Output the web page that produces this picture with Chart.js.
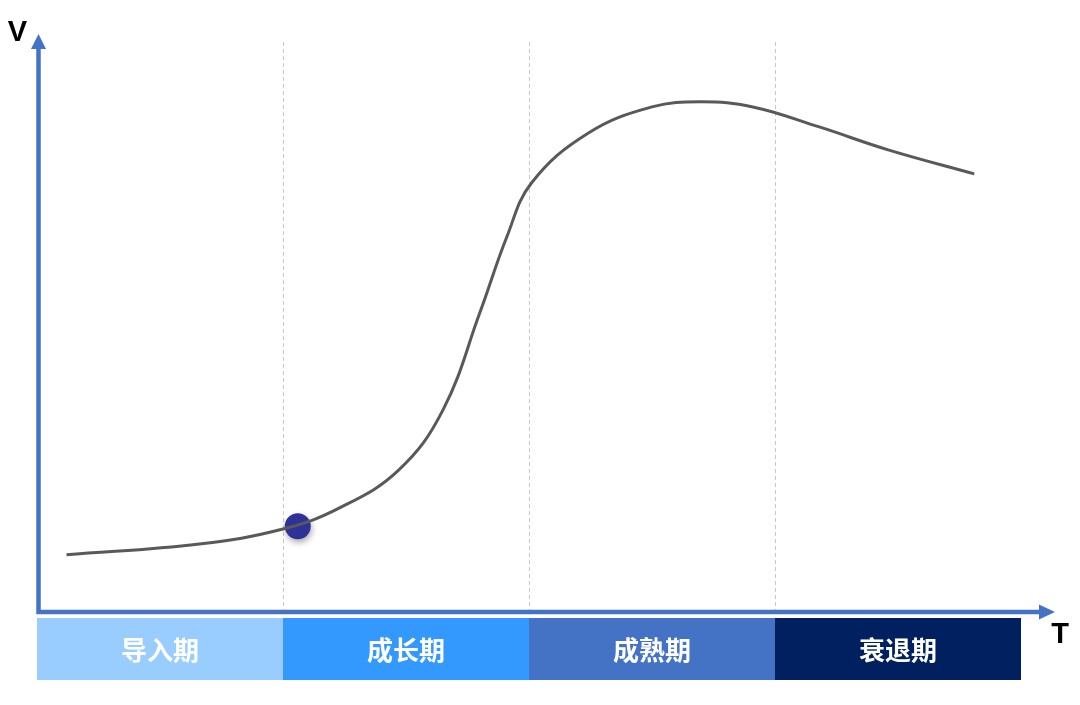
<!DOCTYPE html>
<html lang="zh">
<head>
  <meta charset="UTF-8">
  <title>产品生命周期</title>
  <script src="https://cdn.jsdelivr.net/npm/chart.js"></script>
  <style>
    html, body { margin: 0; padding: 0; background: #fff; }
    #wrap { width: 1080px; height: 705px; }
  </style>
</head>
<body>
<div id="wrap"><canvas id="lifeCycle" width="1080" height="705"></canvas></div>

<script>
// stages along T (each stage is one unit wide)
const stages = ['导入期', '成长期', '成熟期', '衰退期'];
const stageBounds = [0, 1, 2, 3, 4];

// curve: T (stage units) and V (0-100)
const curveT = [0.12, 0.66, 1.0, 1.23, 1.47, 1.65, 1.80, 1.91, 2.01, 2.24, 2.50, 2.70, 2.91, 3.18, 3.46, 3.81];
const curveV = [10.0, 11.9, 14.5, 18.2, 24.8, 35.3, 52.3, 65.6, 75.0, 83.7, 88.3, 89.2, 88.3, 84.8, 80.8, 76.6];

// highlighted point
const markerT = [1.06];
const markerV = [15.0];

const axisBlue = '#4472C4';
const bandColors = ['#99CCFF', '#3399FF', '#4472C4', '#002060'];

const lifeCyclePlugin = {
  id: 'lifeCycle',
  beforeDatasetsDraw(chart) {
    const { ctx, chartArea: a, scales: { x } } = chart;
    ctx.save();
    // dashed stage dividers
    ctx.strokeStyle = '#c8c8c8';
    ctx.lineWidth = 1;
    ctx.setLineDash([4, 3]);
    stageBounds.slice(1, -1).forEach(b => {
      const px = Math.round(x.getPixelForValue(b)) + 0.5;
      ctx.beginPath();
      ctx.moveTo(px, a.top + 2);
      ctx.lineTo(px, a.bottom);
      ctx.stroke();
    });
    ctx.setLineDash([]);

    // stage bands under the T axis
    const top = a.bottom + 6, h = 62;
    ctx.font = 'bold 26px "Noto Sans CJK SC", sans-serif';
    ctx.textAlign = 'center';
    ctx.textBaseline = 'middle';
    stages.forEach((s, i) => {
      const x0 = x.getPixelForValue(stageBounds[i]);
      const x1 = x.getPixelForValue(stageBounds[i + 1]);
      ctx.fillStyle = bandColors[i];
      ctx.fillRect(x0, top, x1 - x0, h);
      ctx.fillStyle = '#fff';
      ctx.fillText(s, (x0 + x1) / 2, top + h / 2 + 1);
    });

    // axes with arrows
    const ox = a.left + 1.5, oy = a.bottom;
    ctx.strokeStyle = axisBlue;
    ctx.fillStyle = axisBlue;
    ctx.lineWidth = 4.5;
    ctx.beginPath();
    ctx.moveTo(ox, oy + 2);
    ctx.lineTo(ox, 48);
    ctx.moveTo(ox - 2, oy);
    ctx.lineTo(1042, oy);
    ctx.stroke();
    ctx.beginPath();
    ctx.moveTo(ox, 34);
    ctx.lineTo(ox - 7.5, 49);
    ctx.lineTo(ox + 7.5, 49);
    ctx.closePath();
    ctx.fill();
    ctx.beginPath();
    ctx.moveTo(1055, oy);
    ctx.lineTo(1039, oy - 7.5);
    ctx.lineTo(1039, oy + 7.5);
    ctx.closePath();
    ctx.fill();

    // axis names
    ctx.fillStyle = '#000';
    ctx.font = 'bold 29px "Liberation Sans", Arial, sans-serif';
    ctx.fillText('V', 17.5, 33);
    ctx.fillText('T', 1060, 635);
    ctx.restore();
  },
  beforeDatasetDraw(chart, args) {
    if (args.index === 1) {
      const ctx = chart.ctx;
      ctx.save();
      ctx.shadowColor = 'rgba(0,0,0,0.35)';
      ctx.shadowBlur = 6;
      ctx.shadowOffsetX = 1;
      ctx.shadowOffsetY = 3;
    }
  },
  afterDatasetDraw(chart, args) {
    if (args.index === 1) chart.ctx.restore();
  }
};

new Chart(document.getElementById('lifeCycle'), {
  type: 'line',
  data: {
    datasets: [
      {
        label: 'V',
        data: curveT.map((t, i) => ({ x: t, y: curveV[i] })),
        borderColor: '#595959',
        borderWidth: 3,
        pointRadius: 0,
        tension: 0.4,
        fill: false
      },
      {
        label: 'marker',
        data: markerT.map((t, i) => ({ x: t, y: markerV[i] })),
        showLine: false,
        pointRadius: 13,
        pointBackgroundColor: '#2E3196',
        pointBorderWidth: 0
      }
    ]
  },
  options: {
    responsive: false,
    animation: false,
    events: [],
    layout: { padding: { left: 37, right: 59, top: 40, bottom: 93 } },
    plugins: { legend: { display: false }, tooltip: { enabled: false } },
    scales: {
      x: { type: 'linear', min: 0, max: 4, display: false },
      y: { min: 0, max: 100, display: false }
    }
  },
  plugins: [lifeCyclePlugin]
});
</script>
</body>
</html>
